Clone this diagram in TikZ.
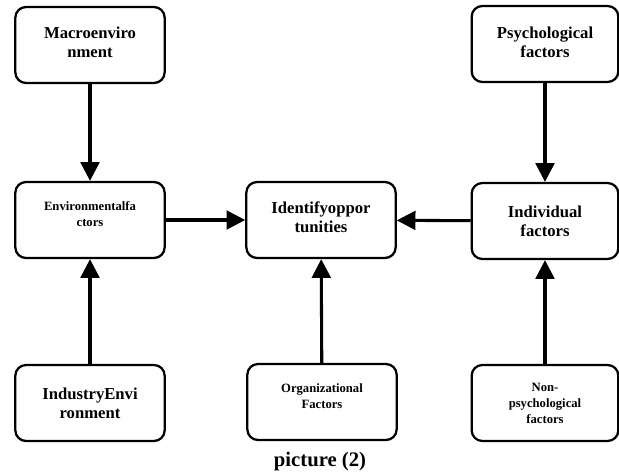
\documentclass[tikz,border=0pt]{standalone}
\usepackage{fontspec}
\setmainfont{Liberation Serif}
\usepackage{tikz}
\usetikzlibrary{arrows.meta, positioning}
\tikzset{
  box/.style={draw, line width=1.7pt, rounded corners=8pt, align=center, font=\bfseries,
    minimum width=112pt, minimum height=57pt, inner sep=2pt},
  bigtext/.style={font=\fontsize{12.5}{14.5}\selectfont\bfseries},
  smalltext/.style={font=\fontsize{9.5}{12}\selectfont\bfseries},
  arrow/.style={-{Triangle[length=14pt,width=14pt]}, line width=2.3pt}
}
\begin{document}
\begin{tikzpicture}[x=0.75pt, y=-0.75pt]
  \useasboundingbox (0,0) rectangle (619,475);
  % Nodes
  \node[box, bigtext, text depth=4.5pt] (macro) at (90,45) {Macroenviro\\nment};
  \node[box, smalltext, text depth=9pt] (env) at (90,220) {Environmentalfa\\ctors};
  \node[box, bigtext, text depth=4.5pt] (ident) at (321,220) {Identifyoppor\\tunities};
  \node[box, bigtext, minimum width=110pt] (indiv) at (545,221) {Individual\\factors};
  \node[box, bigtext, minimum width=110pt, text depth=3pt] (psych) at (545,44) {Psychological\\factors};
  \node[box, bigtext] (industry) at (90,403) {IndustryEnvi\\ronment};
  \node[box, smalltext, text depth=9pt] (org) at (322,402) {Organizational\\Factors};
  \node[box, smalltext, minimum width=110pt] (nonpsych) at (545,403) {Non-\\psychological\\factors};
  \node[font=\fontsize{15.5}{17}\selectfont\bfseries] (caption) at (320,462) {picture (2)};

  % Arrows
  \draw[arrow] (macro) -- (env);
  \draw[arrow] (industry) -- (env);
  \draw[arrow] (env) -- (ident);
  \draw[arrow] (indiv) -- (ident);
  \draw[arrow] (psych) -- (indiv);
  \draw[arrow] (org) -- (ident);
  \draw[arrow] (nonpsych) -- (indiv);
\end{tikzpicture}
\end{document}
